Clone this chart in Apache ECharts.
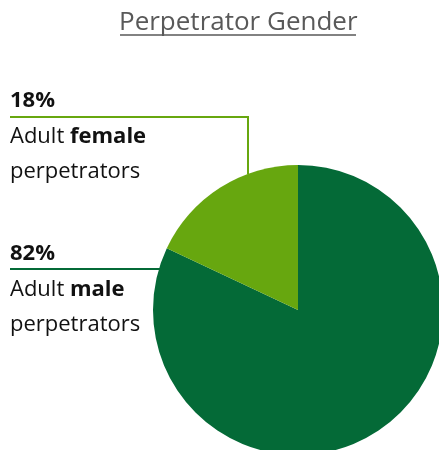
<!DOCTYPE html>
<html>
<head>
<meta charset="utf-8">
<script src="https://cdn.jsdelivr.net/npm/echarts@6/dist/echarts.min.js"></script>
<style>
  html, body { margin: 0; padding: 0; background: #fff; }
  #chart { width: 439px; height: 450px; }
</style>
</head>
<body>
<div id="chart"></div>
<script>
// Perpetrator gender split (percent)
const categories = ['male', 'female'];
const values = [82, 18];
const colors = ['#046a37', '#67a70f'];

const chart = echarts.init(document.getElementById('chart'), null, { renderer: 'canvas' });

const FONT = '"Open Sans", sans-serif';

// label block placement and leader-line routes per slice
const labelSpots = {
  male:   { y: 236, line: [[10, 269], [159, 269], [160, 269]] },
  female: { y: 83,  line: [[10, 117], [248, 117], [248, 174]] }
};

chart.setOption({
  animation: false,
  title: {
    text: 'Perpetrator Gender',
    left: 114,
    top: 5,
    textStyle: { fontFamily: FONT, fontSize: 26, fontWeight: 'normal', color: '#595959' }
  },
  graphic: [{
    type: 'line',
    shape: { x1: 120, y1: 35, x2: 356, y2: 35 },
    style: { stroke: '#595959', lineWidth: 1.5 }
  }],
  series: [{
    type: 'pie',
    center: [298, 310],
    radius: 145,
    startAngle: 90,
    clockwise: true,
    avoidLabelOverlap: false,
    emphasis: { disabled: true },
    itemStyle: { borderWidth: 0 },
    data: categories.map((c, i) => ({
      name: c,
      value: values[i],
      itemStyle: { color: colors[i] },
      labelLine: { lineStyle: { color: colors[i], width: 2 } }
    })),
    label: {
      show: true,
      position: 'outside',
      overflow: 'none',
      formatter: p => '{pct|' + p.value + '%}\n{n|Adult }{b|' + p.name + '}\n{n|perpetrators}',
      rich: {
        pct: { fontFamily: FONT, fontSize: 22, fontWeight: 'bold', color: '#111', lineHeight: 36 },
        n: { fontFamily: FONT, fontSize: 22, color: '#111', lineHeight: 35 },
        b: { fontFamily: FONT, fontSize: 22, fontWeight: 'bold', color: '#111', lineHeight: 35 }
      }
    },
    labelLine: { show: true, smooth: false },
    labelLayout: function (params) {
      const spot = labelSpots[categories[params.dataIndex]];
      return {
        x: 10,
        y: spot.y,
        align: 'left',
        verticalAlign: 'top',
        hideOverlap: false,
        labelLinePoints: spot.line
      };
    }
  }]
});
</script>
</body>
</html>
